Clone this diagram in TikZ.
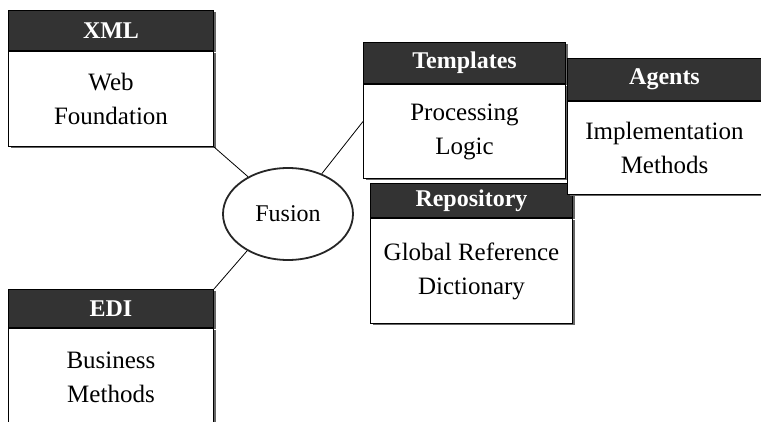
\documentclass[tikz,border=0pt]{standalone}
\usepackage{fontspec}
\setmainfont{Liberation Serif}
\usetikzlibrary{positioning,shapes.geometric,shadows}

\begin{document}
\begin{tikzpicture}[x=1pt,y=-1pt,
  head/.style={draw=black,line width=1pt,fill=black!80,text=white,inner sep=0pt,
    font=\fontsize{24}{28}\selectfont\bfseries,
    drop shadow={shadow xshift=2pt,shadow yshift=-2pt,fill=black!60,opacity=1}},
  body/.style={draw=black,line width=1pt,fill=white,inner sep=0pt,align=center,
    font=\fontsize{25}{34}\selectfont,
    drop shadow={shadow xshift=2pt,shadow yshift=-2pt,fill=black!60,opacity=1}},
  link/.style={line width=0.8pt}]
	%%%%% START %%%%%
	\useasboundingbox (0,0) rectangle (761,422);
	
	% left column
	\node[head,anchor=north west,minimum width=205pt,minimum height=40pt] (xmlh) at (8,10) {XML};
	\node[body,minimum width=205pt,minimum height=95pt,below=0pt of xmlh] (xmlb) {Web\\Foundation};
	
	\node[head,anchor=north west,minimum width=205pt,minimum height=38pt] (edih) at (8,289) {EDI};
	\node[body,minimum width=205pt,minimum height=98pt,below=0pt of edih] (edib) {Business\\Methods};
	
	% hub
	\node[ellipse,draw=black!85,line width=1.8pt,fill=white,inner sep=0pt,
		minimum width=130pt,minimum height=92pt,font=\fontsize{24}{28}\selectfont] (fusion) at (288,214) {Fusion};
	
	% right group
	\node[head,anchor=north west,minimum width=202pt,minimum height=41pt] (tplh) at (363,42) {Templates};
	\node[body,minimum width=202pt,minimum height=94pt,below=0pt of tplh] (tplb) {Processing\\Logic};
	
	\node[head,anchor=north west,minimum width=202pt,minimum height=34pt] (repoh) at (370,183) {Repository};
	\node[body,minimum width=202pt,minimum height=105pt,below=0pt of repoh] (repob) {Global Reference\\Dictionary};
	
	\node[head,anchor=north west,minimum width=194pt,minimum height=42pt] (agth) at (567,58) {Agents};
	\node[body,minimum width=194pt,minimum height=93pt,below=0pt of agth] (agtb) {Implementation\\Methods};
	
	% links
	\draw[link] (xmlb.south east) -- (fusion.137);
	\draw[link] (fusion.222) -- (edih.north east);
	\draw[link] (fusion.50) -- ([yshift=10pt]tplb.west);
	%%%%% END %%%%%
\end{tikzpicture}
\end{document}
